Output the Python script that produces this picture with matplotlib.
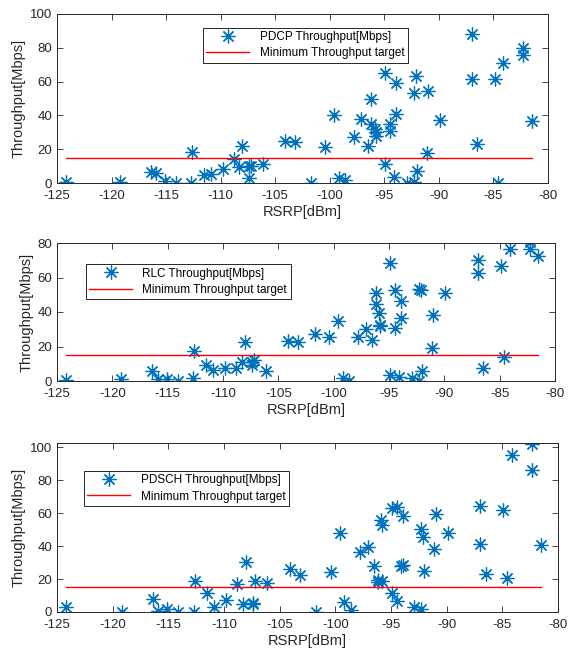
import matplotlib.pyplot as plt
import numpy as np

plt.rcParams['font.family'] = ['Liberation Sans', 'DejaVu Sans']
plt.rcParams['axes.unicode_minus'] = False

# RSRP samples (same measurement points for all three layers)
rsrp = [-124.2, -119.2, -116.4, -115.9, -115.1, -114.1, -112.7, -112.6, -111.5, -110.9,
        -109.8, -108.8, -108.3, -108.0, -107.4, -107.4, -107.2, -106.1, -104.1, -103.2,
        -101.7, -100.4, -99.6, -99.2, -98.6, -97.8, -97.1, -96.5, -96.2, -96.2,
        -95.9, -95.8, -95.8, -94.9, -94.9, -94.5, -94.5, -94.1, -93.9, -93.9,
        -92.9, -92.3, -92.3, -92.1, -92.0, -91.1, -91.0, -89.9, -87.0, -87.0,
        -86.5, -84.9, -84.6, -84.1, -82.3, -82.3, -81.5]

pdcp = [0.8, 0.8, 6.3, 5.7, 1.0, 0.0, 0.0, 18.6, 5.0, 5.5,
        8.0, 14.3, 9.3, 21.8, 3.0, 10.0, 10.3, 11.0, 25.0, 24.2,
        0.0, 21.2, 40.0, 2.8, 1.8, 27.1, 38.0, 21.8, 49.5, 34.7,
        32.0, 30.0, 28.0, 64.8, 11.0, 35.0, 30.7, 3.4, 59.0, 41.0,
        0.0, 0.8, 53.3, 63.2, 7.3, 17.6, 54.3, 37.0, 88.0, 61.4,
        23.2, 61.4, 0.0, 71.3, 80.0, 75.6, 36.6]

rlc = [0.4, 1.0, 5.6, 1.0, 1.0, 0.0, 2.0, 17.3, 9.5, 6.5,
       7.5, 7.5, 11.0, 22.8, 9.0, 11.0, 12.0, 6.0, 23.0, 22.5,
       27.4, 25.5, 34.7, 1.6, 0.0, 25.4, 30.4, 23.8, 51.2, 44.6,
       39.3, 32.7, 32.0, 68.5, 3.4, 52.6, 30.8, 2.4, 46.2, 36.7,
       2.0, 0.0, 53.2, 52.6, 6.0, 19.4, 38.0, 51.2, 70.4, 62.5,
       7.3, 66.5, 13.9, 76.4, 80.4, 76.4, 72.4]

pdsch = [3.0, 0.0, 7.8, 0.6, 1.6, 0.0, 0.0, 18.5, 11.4, 3.0,
         7.4, 16.7, 4.6, 30.1, 5.6, 4.6, 19.0, 17.7, 26.1, 22.5,
         0.0, 24.5, 48.2, 6.0, 1.0, 36.1, 39.6, 28.1, 19.7, 18.1,
         55.6, 52.6, 18.5, 62.9, 11.4, 63.7, 6.6, 28.0, 58.2, 28.8,
         3.0, 2.0, 50.6, 45.6, 24.7, 38.2, 59.2, 48.2, 64.3, 41.2,
         23.1, 61.6, 20.5, 95.4, 101.8, 86.3, 40.8]

target = 15
names = ["PDCP Throughput[Mbps]", "RLC Throughput[Mbps]", "PDSCH Throughput[Mbps]"]
series = [pdcp, rlc, pdsch]
ylims = [(0, 100), (0, 80), (0, 102.5)]
yticks = [np.arange(0, 101, 20), np.arange(0, 81, 20), np.arange(0, 101, 20)]

W, H = 576, 655
# axes boxes in pixels: left, right, top, bottom
boxes = [(57, 548, 14, 183), (57, 555, 243, 381), (57, 558, 443, 612)]
leg_pos = [(0.285, 0.955), (0.046, 0.89), (0.042, 0.87)]

fig = plt.figure(figsize=(W / 100, H / 100), dpi=100)
grey = '#262626'

for i in range(3):
    l, r, t, b = boxes[i]
    ax = fig.add_axes([l / W, 1 - b / H, (r - l) / W, (b - t) / H])
    ax.plot(rsrp, series[i], linestyle='none', marker=(8, 2, 0), markersize=10,
            markeredgewidth=0.9, color='#0072BD', label=names[i])
    ax.plot([min(rsrp), max(rsrp)], [target, target], color='red', linewidth=1.0,
            label='Minimum Throughput target')
    ax.set_xlim(-125, -80)
    ax.set_ylim(*ylims[i])
    ax.set_xticks(np.arange(-125, -79, 5))
    ax.set_yticks(yticks[i])
    ax.tick_params(direction='in', top=True, right=True, labelsize=9.5,
                   colors=grey, length=4, width=0.6)
    ax.tick_params(axis='x', pad=5)
    for s in ax.spines.values():
        s.set_color(grey)
        s.set_linewidth(0.7)
    ax.set_xlabel('RSRP[dBm]', fontsize=10.5, color=grey, labelpad=2)
    ax.set_ylabel('Throughput[Mbps]', fontsize=10.5, color=grey, labelpad=3)
    leg = ax.legend(loc='upper left', bbox_to_anchor=leg_pos[i], fontsize=8.5,
                    fancybox=False, edgecolor=grey, framealpha=1,
                    handlelength=3.6, handletextpad=0.9, borderpad=0.3,
                    labelspacing=0.35)
    leg.get_frame().set_linewidth(0.7)

plt.savefig("out.png", dpi=100)
